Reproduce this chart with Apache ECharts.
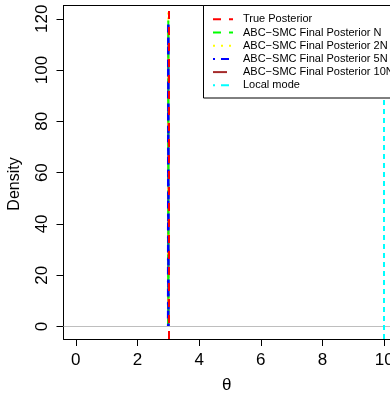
<!DOCTYPE html>
<html><head><meta charset="utf-8">
<script src="https://cdn.jsdelivr.net/npm/echarts@6/dist/echarts.min.js"></script>
<style>html,body{margin:0;padding:0;background:#fff;overflow:hidden}#c{width:390px;height:393px}</style>
</head><body><div id="c"></div>
<script>
// ---- data ----
const xTicks = [0, 2, 4, 6, 8, 10];
const yTicks = [0, 20, 40, 60, 80, 100, 120];
const thetaGrid = [2.995, 3.0, 3.005];
const densN = [0, 119.3, 0];
const dens2N = [0, 122.7, 0];
const dens5N = [0, 118.0, 0];
const dens10N = [0, 117.5, 0];
const trueTheta = 3;
const localMode = 10;
const legendNames = ['True Posterior', 'ABC\u2212SMC Final Posterior N', 'ABC\u2212SMC Final Posterior 2N',
  'ABC\u2212SMC Final Posterior 5N', 'ABC\u2212SMC Final Posterior 10N', 'Local mode'];
const legendColors = ['#FF0000', '#00FF00', '#FFFF00', '#0000FF', '#A52A2A', '#00FFFF'];
const legendDash = [[8, 8], [8, 8], [2, 6], [2, 6, 8, 6], [14, 6], [2, 6, 8, 6]];

const pairs = (ys) => thetaGrid.map((x, i) => [x, ys[i]]);
const FONT = 'Liberation Sans, Arial, sans-serif';

const chart = echarts.init(document.getElementById('c'), null, {renderer: 'canvas'});

function densSeries(name, ys, color, dash, width) {
  return {
    name, type: 'line', data: pairs(ys), showSymbol: false, symbol: 'none',
    lineStyle: {color, width: width || 2, type: dash}, silent: true, animation: false
  };
}

const legendGraphics = [];
const LX = 203.5, LY = 5.5;
legendGraphics.push({type: 'rect', shape: {x: LX, y: LY, width: 260, height: 92.5},
  style: {fill: '#fff', stroke: '#000', lineWidth: 1}, z: 100});
legendNames.forEach((nm, i) => {
  const y = 19.3 + i * 13.2;
  legendGraphics.push({type: 'line', shape: {x1: 213, y1: y, x2: 233, y2: y},
    style: {stroke: legendColors[i], lineWidth: 2, lineDash: legendDash[i]}, z: 101});
  legendGraphics.push({type: 'text', x: 243, y: y,
    style: {text: nm, fill: '#000', font: '11px ' + FONT, textVerticalAlign: 'middle', verticalAlign: 'middle'}, z: 101});
});
// y-axis title
legendGraphics.push({type: 'text', x: 15, y: 184, rotation: Math.PI / 2,
  style: {text: 'Density', fill: '#000', font: '16px ' + FONT, align: 'center', verticalAlign: 'middle',
    textAlign: 'center', textVerticalAlign: 'middle'}});

chart.setOption({
  animation: false,
  grid: {left: 63.5, top: 5.5, right: 0, bottom: 54, show: false, containLabel: false, outerBoundsMode: 'none'},
  xAxis: [{
    type: 'value', min: -0.4, max: 10.19,
    name: '\u03b8', nameLocation: 'middle', nameGap: 38,
    nameTextStyle: {fontFamily: FONT, fontSize: 17, color: '#000'},
    axisLine: {show: true, onZero: false, lineStyle: {color: '#000', width: 1}}, splitLine: {show: false},
    axisTick: {show: true, length: 7, customValues: xTicks, lineStyle: {color: '#000'}},
    axisLabel: {customValues: xTicks, fontFamily: FONT, fontSize: 17, color: '#000', margin: 13, hideOverlap: false}
  }, {
    type: 'value', position: 'top', min: -0.4, max: 10.19,
    axisLine: {show: true, onZero: false, lineStyle: {color: '#000', width: 1}},
    axisTick: {show: false}, axisLabel: {show: false}, splitLine: {show: false}
  }],
  yAxis: {
    type: 'value', min: -4.9, max: 125.2,
    axisLine: {show: true, onZero: false, lineStyle: {color: '#000', width: 1}}, splitLine: {show: false},
    axisTick: {show: true, length: 7, customValues: yTicks, lineStyle: {color: '#000'}},
    axisLabel: {customValues: yTicks, rotate: 90, fontFamily: FONT, fontSize: 17, color: '#000', margin: 13}
  },
  series: [
    {
      name: legendNames[0], type: 'line', data: [], silent: true,
      markLine: {
        silent: true, symbol: 'none', animation: false, label: {show: false},
        data: [
          {yAxis: 0, lineStyle: {color: '#BEBEBE', width: 1, type: 'solid'}},
          {xAxis: trueTheta, lineStyle: {color: legendColors[0], width: 2, type: legendDash[0]}}
        ]
      }
    },
    densSeries(legendNames[4], dens10N, legendColors[4], legendDash[4]),
    densSeries(legendNames[2], dens2N, legendColors[2], legendDash[2]),
    densSeries(legendNames[1], densN, legendColors[1], legendDash[1]),
    densSeries(legendNames[3], dens5N, legendColors[3], legendDash[3], 2.5),
    {
      name: legendNames[5], type: 'line', data: [], silent: true,
      markLine: {
        silent: true, symbol: 'none', animation: false, label: {show: false},
        data: [{xAxis: localMode, lineStyle: {color: legendColors[5], width: 2, type: [5, 4]}}]
      }
    }
  ],
  graphic: legendGraphics
});
</script></body></html>
